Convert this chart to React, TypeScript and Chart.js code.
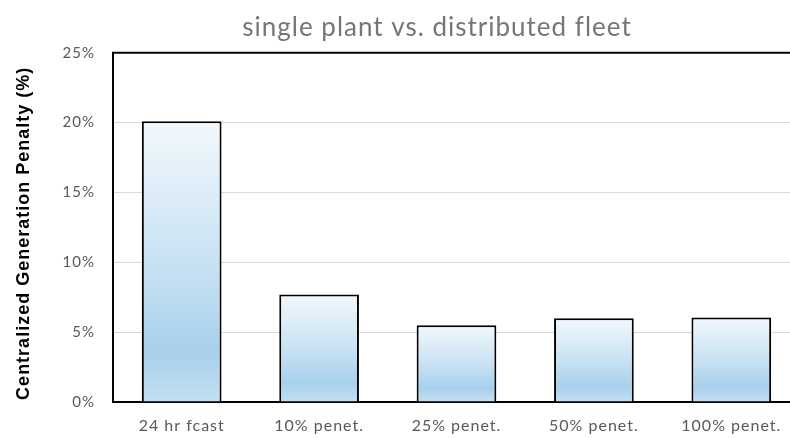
import React, { useEffect, useRef } from "react";
import { Chart, registerables } from "chart.js";

Chart.register(...registerables);

const categories: string[] = ["24 hr fcast", "10% penet.", "25% penet.", "50% penet.", "100% penet."];
const penaltyValues: number[] = [20.1, 7.7, 5.5, 6.0, 6.05];
const yTickStep = 5;
const yMax = 25;
const chartTitle = "single plant vs. distributed fleet";
const yAxisTitle = "Centralized Generation Penalty (%)";

const frame = {
  id: "plotFrame",
  beforeDraw(chart: any) {
    (chart.ctx as any).letterSpacing = "1px";
  },
  beforeDatasetsDraw(chart: any) {
    (chart.ctx as any).letterSpacing = "0px";
  },
  afterDatasetsDraw(chart: any) {
    (chart.ctx as any).letterSpacing = "1px";
  },
  afterDraw(chart: any) {
    const { ctx, chartArea } = chart;
    ctx.save();
    (ctx as any).letterSpacing = "0px";
    ctx.strokeStyle = "#000";
    ctx.lineWidth = 2;
    ctx.beginPath();
    ctx.moveTo(chartArea.left - 1, chartArea.top);
    ctx.lineTo(chartArea.right, chartArea.top);
    ctx.stroke();
    ctx.restore();
  },
};

export default function App() {
  const ref = useRef<HTMLCanvasElement | null>(null);
  useEffect(() => {
    if (!ref.current) return;
    const chart = new Chart(ref.current, {
      type: "bar",
      data: {
        labels: categories,
        datasets: [
          {
            data: penaltyValues,
            borderColor: "#000",
            borderWidth: 2,
            categoryPercentage: 1,
            barPercentage: 0.58,
            backgroundColor: (c: any) => {
              const ch = c.chart;
              if (!ch.chartArea || c.raw === undefined) return "#c5e0f4";
              const ys = ch.scales.y;
              const top = ys.getPixelForValue(c.raw);
              const bot = ys.getPixelForValue(0);
              const g = ch.ctx.createLinearGradient(0, top, 0, bot);
              g.addColorStop(0, "#f2f8fc");
              g.addColorStop(0.5, "#c9e2f3");
              g.addColorStop(0.82, "#a8d0ec");
              g.addColorStop(1, "#c3dff3");
              return g;
            },
          },
        ],
      },
      options: {
        animation: false,
        responsive: false,
        devicePixelRatio: 1,
        layout: { padding: 0 },
        plugins: {
          legend: { display: false },
          tooltip: { enabled: false },
          title: {
            display: true,
            text: chartTitle,
            color: "#767676",
            font: { family: "Lato", size: 26, weight: "normal" },
            padding: { top: 12, bottom: 9.5 },
          },
        },
        scales: {
          x: {
            grid: { display: false, drawTicks: false },
            border: { display: true, color: "#000", width: 2 },
            ticks: { color: "#595959", font: { family: "Lato", size: 16 }, padding: 14 },
            afterFit: (s: any) => {
              s.height = 36;
            },
          },
          y: {
            min: 0,
            max: yMax,
            grid: { color: "#d9d9d9", lineWidth: 1, drawTicks: false },
            border: { display: true, color: "#000", width: 2 },
            ticks: {
              stepSize: yTickStep,
              color: "#595959",
              font: { family: "Lato", size: 15 },
              padding: 18,
              callback: (v: any) => v + "%",
            },
            title: {
              display: true,
              text: yAxisTitle + "  ",
              color: "#000",
              font: { family: "Liberation Sans", size: 18, weight: "bold" },
              padding: { top: 13, bottom: 0 },
            },
            afterFit: (s: any) => {
              s.width = 113;
            },
          },
          yR: {
            type: "linear",
            position: "right",
            display: true,
            grid: { display: false, drawTicks: false },
            border: { display: false },
            ticks: { display: false },
            afterFit: (s: any) => {
              s.width = 74;
            },
          },
        },
      },
      plugins: [frame],
    });
    return () => chart.destroy();
  }, []);
  return (
    <div style={{ position: "fixed", left: 0, top: 0, width: 790, height: 438, overflow: "hidden", background: "#fff" }}>
      <canvas ref={ref} width={874} height={438} style={{ display: "block" }} />
    </div>
  );
}
